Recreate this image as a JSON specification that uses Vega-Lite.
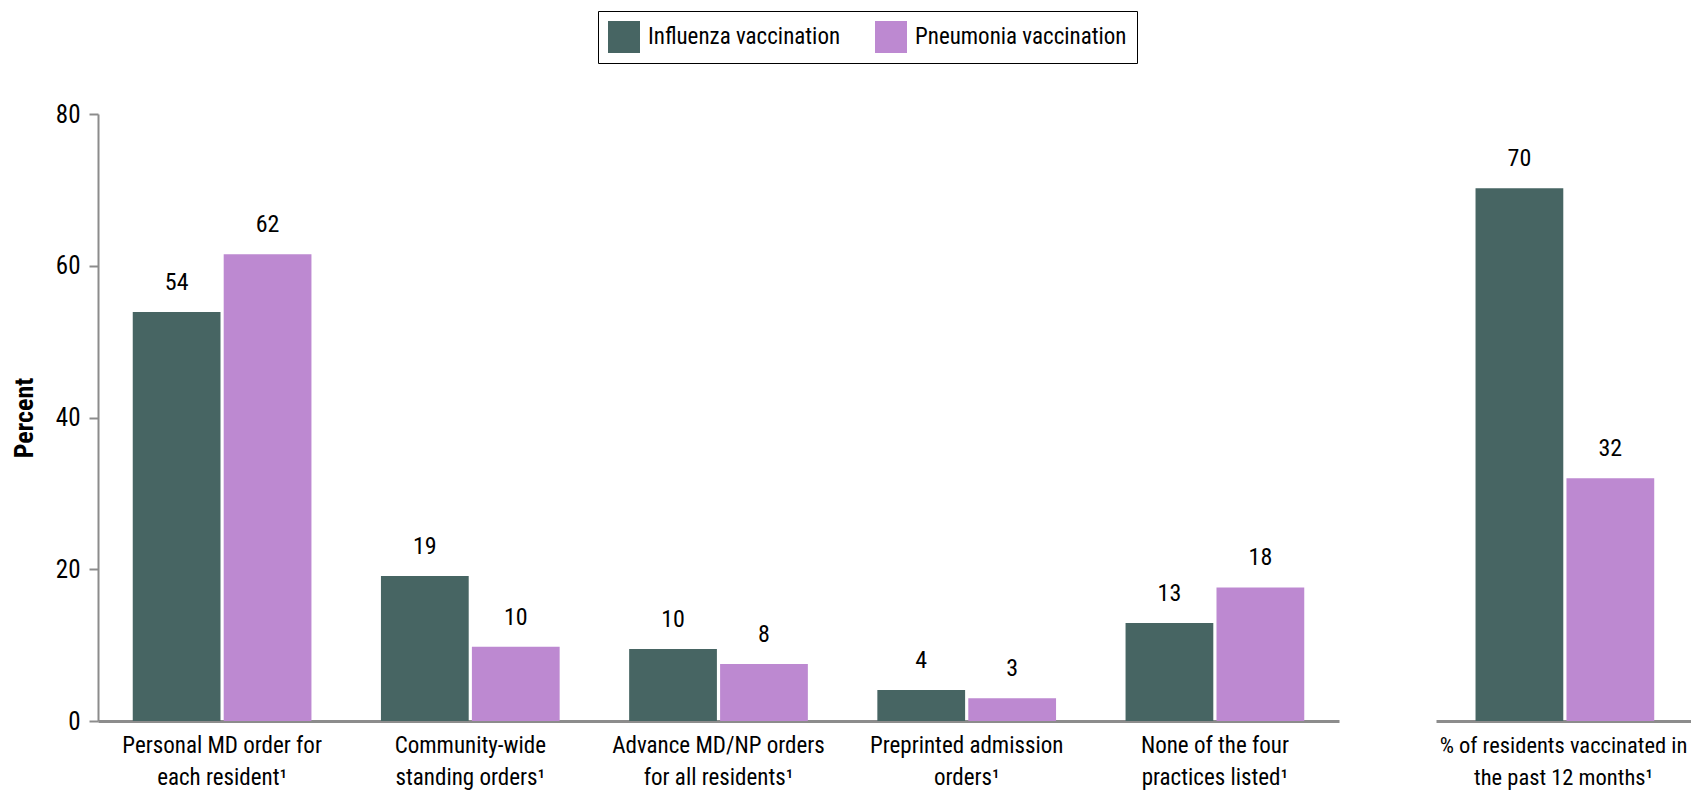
{
  "$schema": "https://vega.github.io/schema/vega-lite/v6.json",
  "autosize": {"type": "pad"},
  "bounds": "flush",
  "padding": {"left": 11, "top": 10, "right": 0, "bottom": 4},
  "config": {
    "view": {"stroke": null},
    "font": "Roboto Condensed, DejaVu Sans Condensed, sans-serif",
    "concat": {"spacing": 97},
    "axis": {"grid": false, "domainColor": "#8c8c8c", "tickColor": "#8c8c8c", "labelColor": "#000000", "titleColor": "#000000"}
  },
  "data": {
    "values": [
      {"panel": "practice", "category": "Personal MD order for|each resident¹", "vaccine": "Influenza vaccination", "value": 53.9, "label": "54"},
      {"panel": "practice", "category": "Personal MD order for|each resident¹", "vaccine": "Pneumonia vaccination", "value": 61.5, "label": "62"},
      {"panel": "practice", "category": "Community-wide|standing orders¹", "vaccine": "Influenza vaccination", "value": 19.1, "label": "19"},
      {"panel": "practice", "category": "Community-wide|standing orders¹", "vaccine": "Pneumonia vaccination", "value": 9.8, "label": "10"},
      {"panel": "practice", "category": "Advance MD/NP orders|for all residents¹", "vaccine": "Influenza vaccination", "value": 9.5, "label": "10"},
      {"panel": "practice", "category": "Advance MD/NP orders|for all residents¹", "vaccine": "Pneumonia vaccination", "value": 7.5, "label": "8"},
      {"panel": "practice", "category": "Preprinted admission|orders¹", "vaccine": "Influenza vaccination", "value": 4.1, "label": "4"},
      {"panel": "practice", "category": "Preprinted admission|orders¹", "vaccine": "Pneumonia vaccination", "value": 3.0, "label": "3"},
      {"panel": "practice", "category": "None of the four|practices listed¹", "vaccine": "Influenza vaccination", "value": 12.9, "label": "13"},
      {"panel": "practice", "category": "None of the four|practices listed¹", "vaccine": "Pneumonia vaccination", "value": 17.6, "label": "18"},
      {"panel": "rate", "category": "% of residents vaccinated in|the past 12 months¹", "vaccine": "Influenza vaccination", "value": 70.2, "label": "70"},
      {"panel": "rate", "category": "% of residents vaccinated in|the past 12 months¹", "vaccine": "Pneumonia vaccination", "value": 32.0, "label": "32"}
    ]
  },
  "hconcat": [
    {
      "width": 1241,
      "height": 607,
      "transform": [{"filter": "datum.panel === 'practice'"}],
      "encoding": {
        "x": {
          "field": "category", "type": "nominal",
          "sort": ["Personal MD order for|each resident¹", "Community-wide|standing orders¹", "Advance MD/NP orders|for all residents¹", "Preprinted admission|orders¹", "None of the four|practices listed¹"],
          "scale": {"paddingInner": 0.28, "paddingOuter": 0.14},
          "axis": {"title": null, "ticks": false, "domainWidth": 3, "labelAngle": 0, "labelFontSize": 23, "labelPadding": 13, "labelLineHeight": 32, "labelBaseline": "top", "labelLimit": 0, "labelExpr": "split(datum.label, '|')"}
        },
        "xOffset": {"field": "vaccine", "type": "nominal", "scale": {"paddingInner": 0.035, "paddingOuter": 0}},
        "y": {
          "field": "value", "type": "quantitative",
          "scale": {"domain": [0, 80]},
          "axis": {"title": "Percent", "titleFontSize": 26, "titleFontWeight": "bold", "titlePadding": 18, "values": [0, 20, 40, 60, 80], "domainWidth": 2, "tickWidth": 2, "tickSize": 9, "labelFontSize": 25, "labelPadding": 9}
        }
      },
      "layer": [
        {
          "mark": {"type": "bar"},
          "encoding": {
            "color": {
              "field": "vaccine", "type": "nominal",
              "scale": {"domain": ["Influenza vaccination", "Pneumonia vaccination"], "range": ["#476563", "#BD89D1"]},
              "legend": {"orient": "none", "legendX": 500, "legendY": -103, "direction": "horizontal", "title": null, "strokeColor": "#000000", "padding": 10, "symbolType": "square", "symbolSize": 1024, "symbolStrokeWidth": 0, "symbolOpacity": 1, "labelFontSize": 23, "labelOffset": 8, "columnPadding": 34, "labelLimit": 0}
            }
          }
        },
        {
          "mark": {"type": "text", "dy": -29, "baseline": "middle", "fontSize": 24, "color": "#000000"},
          "encoding": {"text": {"field": "label"}}
        }
      ]
    },
    {
      "width": 255,
      "height": 607,
      "transform": [{"filter": "datum.panel === 'rate'"}],
      "encoding": {
        "x": {
          "field": "category", "type": "nominal",
          "scale": {"paddingInner": 0.31, "paddingOuter": 0.155},
          "axis": {"title": null, "ticks": false, "domainWidth": 3, "labelAngle": 0, "labelFontSize": 22.5, "labelPadding": 13, "labelLineHeight": 32, "labelBaseline": "top", "labelLimit": 0, "labelExpr": "split(datum.label, '|')"}
        },
        "xOffset": {"field": "vaccine", "type": "nominal", "scale": {"paddingInner": 0.035, "paddingOuter": 0}},
        "y": {"field": "value", "type": "quantitative", "scale": {"domain": [0, 80]}, "axis": null}
      },
      "layer": [
        {
          "mark": {"type": "bar"},
          "encoding": {
            "color": {"field": "vaccine", "type": "nominal", "scale": {"domain": ["Influenza vaccination", "Pneumonia vaccination"], "range": ["#476563", "#BD89D1"]}}
          }
        },
        {
          "mark": {"type": "text", "dy": -29, "baseline": "middle", "fontSize": 24, "color": "#000000"},
          "encoding": {"text": {"field": "label"}}
        }
      ]
    }
  ]
}
